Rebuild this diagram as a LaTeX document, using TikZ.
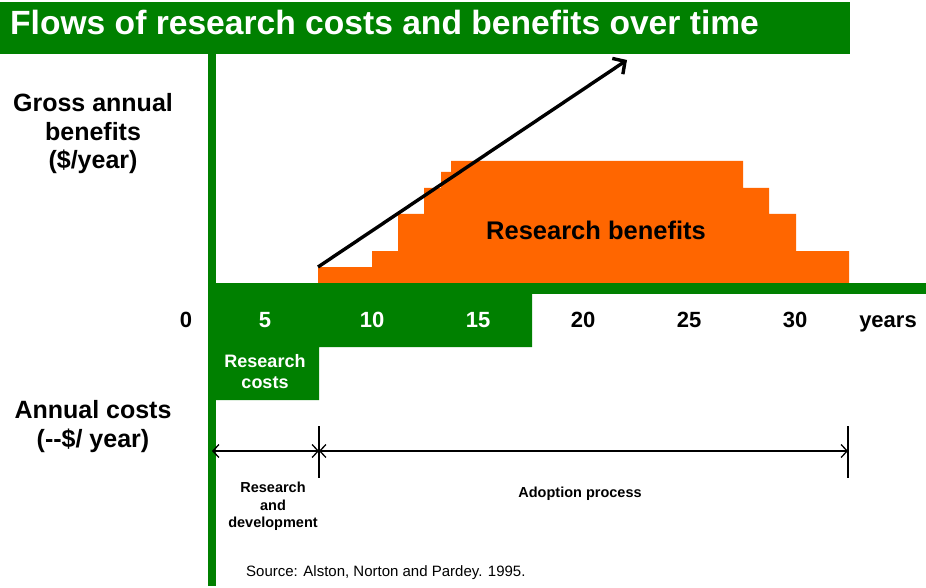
\documentclass[tikz,border=0pt]{standalone}
\usepackage{fontspec}
\setmainfont{Liberation Sans}
\usetikzlibrary{arrows.meta}
\usepackage{xcolor}
\definecolor{barGreen}{RGB}{0,128,0}
\definecolor{benefitOrange}{RGB}{255,102,0}

\begin{document}
\begin{tikzpicture}[x=1pt,y=-1pt]
	 \tikzstyle{axis label}=[inner sep=0pt,anchor=base,font=\bfseries\fontsize{25}{29}\selectfont]
	 \tikzstyle{year label}=[inner sep=0pt,anchor=base,font=\bfseries\fontsize{22}{26}\selectfont]
	 \tikzstyle{cost label}=[inner sep=0pt,anchor=base,text=white,font=\bfseries\fontsize{18}{21}\selectfont]
	 \tikzstyle{phase label}=[inner sep=0pt,anchor=base,font=\bfseries\fontsize{14.5}{17}\selectfont]
	 \tikzstyle{phase span}=[draw,line width=1.3pt,{Straight Barb[length=6pt,width=13pt]}-{Straight Barb[length=6pt,width=13pt]}]
	 \tikzstyle{phase tick}=[draw,line width=1.3pt]

	 \useasboundingbox (0,0) rectangle (926,588);
	 \fill[white] (0,0) rectangle (926,588);

	 % title bar
	 \fill[barGreen] (0,2) rectangle (850,54);
	 \node[anchor=base west,inner sep=0pt,text=white,font=\bfseries\fontsize{33.6}{38}\selectfont] (title) at (10,35) {Flows of research costs and benefits over time};

	 % benefits and costs
	 \fill[benefitOrange] (318,283) -- (318,267) -- (372,267) -- (372,251) -- (398,251) -- (398,214) -- (424,214) -- (424,188) -- (441,188) -- (441,172) -- (451,172) -- (451,161) -- (743,161) -- (743,188) -- (769,188) -- (769,214) -- (796,214) -- (796,251) -- (849,251) -- (849,283) -- cycle;
	 \fill[barGreen] (208,283) -- (532,283) -- (532,347) -- (319,347) -- (319,400) -- (208,400) -- cycle;
	 \fill[barGreen] (208,283) rectangle (926,294);
	 \fill[barGreen] (208,54) rectangle (216,586);

	 \node[inner sep=0pt,anchor=base,font=\bfseries\fontsize{25.5}{30}\selectfont] (benefits) at (596,240) {Research benefits};
	 \node[cost label] (costs1) at (265,367) {Research};
	 \node[cost label] (costs2) at (265,388) {costs};

	 % trend arrow
	 \coordinate (trend start) at (318,267);
	 \coordinate (trend end) at (627,60);
	 \draw[line width=3.4pt,-{Straight Barb[length=9pt,width=19pt]}] (trend start) -- (trend end);

	 % axis labels
	 \node[axis label] (gross1) at (93,112) {Gross annual};
	 \node[axis label] (gross2) at (93,141) {benefits};
	 \node[axis label] (gross3) at (93,169) {(\$/year)};
	 \node[axis label] (annual1) at (93,418) {Annual costs};
	 \node[axis label] (annual2) at (93,447) {(-{}-\$/ year)};

	 \node[year label] (y0) at (186,327) {0};
	 \foreach \yr/\xpos/\col in {5/265/white,10/372/white,15/478/white,20/583/black,25/689/black,30/795/black}
	   \node[year label,text=\col] (y\yr) at (\xpos,327) {\yr};
	 \node[year label] (years) at (888,327) {years};

	 % phases
	 \coordinate (rd start) at (212,451);
	 \coordinate (rd end) at (319,451);
	 \coordinate (adopt end) at (848,451);
	 \draw[phase span] (rd start) -- (rd end);
	 \draw[phase span] (rd end) -- (adopt end);
	 \draw[phase tick] ([yshift=25pt]rd end) -- ([yshift=-27pt]rd end);
	 \draw[phase tick] ([yshift=25pt]adopt end) -- ([yshift=-27pt]adopt end);

	 \node[phase label] (rd1) at (273,492) {Research};
	 \node[phase label] (rd2) at (273,510) {and};
	 \node[phase label] (rd3) at (273,527) {development};
	 \node[phase label] (adopt) at (580,497) {Adoption process};

	 \node[inner sep=0pt,anchor=base west,font=\fontsize{15}{18}\selectfont] (source) at (246,576) {Source: Alston, Norton and Pardey. 1995.};
\end{tikzpicture}
\end{document}
